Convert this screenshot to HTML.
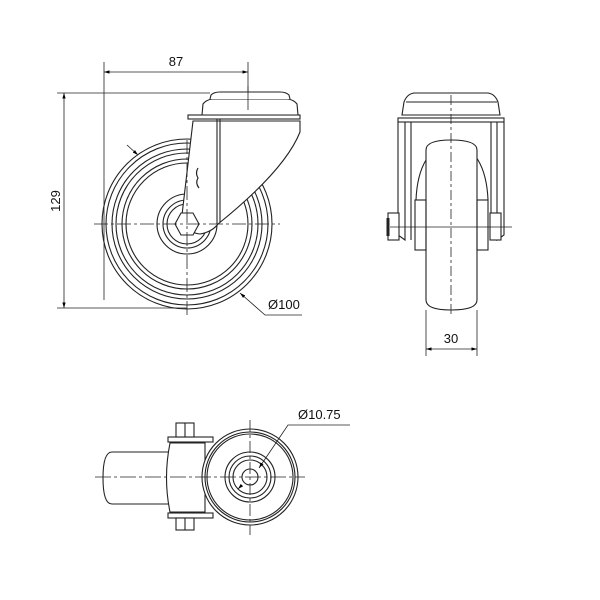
<!DOCTYPE html>
<html><head><style>html,body{margin:0;padding:0;background:#fff}svg{display:block}</style></head>
<body>
<svg width="600" height="600" viewBox="0 0 600 600" xmlns="http://www.w3.org/2000/svg" font-family="'Liberation Sans', sans-serif">
<defs>
<marker id="a" viewBox="0 0 10 10" refX="10" refY="5" markerWidth="7" markerHeight="7" orient="auto-start-reverse"><path d="M0,2 L10,5 L0,8 z" fill="#000"/></marker>
</defs>
<g fill="none" stroke="#222" stroke-width="1.1">
<!-- SIDE VIEW -->
<g stroke-width="0.8">
<line x1="104" y1="62" x2="104" y2="300"/>
<line x1="248" y1="62" x2="248" y2="110"/>
<line x1="104" y1="72" x2="248" y2="72" marker-start="url(#a)" marker-end="url(#a)"/>
<line x1="57" y1="93" x2="210" y2="93"/>
<line x1="57" y1="308" x2="187" y2="308"/>
<line x1="64" y1="93" x2="64" y2="308" marker-start="url(#a)" marker-end="url(#a)"/>
<polyline points="240,293 265,315 302,315" marker-start="url(#a)"/>
<line x1="127" y1="145" x2="138" y2="155" marker-end="url(#a)"/>
</g>
<circle cx="187" cy="224" r="85"/>
<circle cx="187" cy="224" r="81"/>
<circle cx="187" cy="224" r="75"/>
<circle cx="187" cy="224" r="71"/>
<circle cx="187" cy="224" r="65"/>
<circle cx="187" cy="224" r="61"/>
<circle cx="187" cy="224" r="30"/>
<circle cx="187" cy="224" r="24"/>
<circle cx="187" cy="224" r="20"/>
<!-- fork -->
<path d="M193,121 L182,215 Q186,233 200,234 Q212,232 218,224 Q285,170 300,132 L300,121 Z" fill="#fff"/>
<line x1="217" y1="118" x2="217" y2="224"/>
<line x1="220" y1="118" x2="220" y2="222"/>
<polygon points="181,213 193,213 199,224 193,235 181,235 175,224" fill="#fff"/>
<rect x="188" y="115" width="112" height="4" fill="#fff"/>
<path d="M202,115 L203,104 Q206,100 212,99 L288,99 Q294,100 297,104 L298,115 Z" fill="#fff"/>
<path d="M210,99 L211,95 Q214,92 220,92 L280,92 Q286,92 289,95 L290,99" fill="#fff"/>
<g stroke-width="0.8">
<line x1="94" y1="224" x2="280" y2="224" stroke-dasharray="14,3,3,3"/>
<line x1="187" y1="140" x2="187" y2="315" stroke-dasharray="14,3,3,3"/>
<line x1="248" y1="86" x2="248" y2="110"/>
</g>
<path d="M198,168 q-3,5 0,10 q-3,5 1,10" stroke-width="1.2"/>
<!-- FRONT VIEW -->
<path d="M402,115 L404,102 Q407,94 414,93 L488,93 Q495,94 498,102 L500,115 Z" fill="#fff"/>
<line x1="406" y1="102" x2="497" y2="102"/>
<rect x="398" y="118" width="106" height="4"/>
<path d="M398,122 L398,235 L405,240 L405,122"/>
<path d="M504,122 L504,235 L497,240 L497,122"/>
<path d="M411,122 L411,240 M491,122 L491,240"/>
<path d="M416,200 Q418,150 452,140 Q486,150 488,200"/>
<path d="M426,150 Q426,140 451,140 Q477,140 477,150 L477,300 Q477,310 451,310 Q426,310 426,300 Z" fill="#fff"/>
<rect x="415" y="200" width="11" height="50"/>
<rect x="477" y="200" width="11" height="50"/>
<rect x="388" y="213" width="11" height="27" fill="#fff"/>
<line x1="388" y1="218" x2="388" y2="236" stroke-width="3"/>
<rect x="490" y="213" width="11" height="27" fill="#fff"/>
<line x1="390" y1="227" x2="512" y2="227" stroke-width="0.7"/>
<line x1="451" y1="95" x2="451" y2="315" stroke-width="0.8" stroke-dasharray="10,3,3,3"/>
<g stroke-width="0.8">
<line x1="426" y1="310" x2="426" y2="356"/>
<line x1="477" y1="310" x2="477" y2="356"/>
<line x1="426" y1="349" x2="477" y2="349" marker-start="url(#a)" marker-end="url(#a)"/>
</g>
<!-- BOTTOM VIEW -->
<path d="M190,452 L112,452 Q103,452 103,478 Q103,504 112,504 L190,504"/>
<path d="M170,443 L205,443 L205,512 L170,512 Q163,478 170,443 Z" fill="#fff"/>
<rect x="168" y="437" width="45" height="5"/>
<rect x="168" y="513" width="45" height="5"/>
<rect x="176" y="423" width="18" height="14" fill="#fff"/>
<rect x="176" y="518" width="18" height="12" fill="#fff"/>
<line x1="185" y1="423" x2="185" y2="437"/>
<line x1="185" y1="518" x2="185" y2="530"/>
<circle cx="250" cy="477" r="48" fill="#fff"/>
<circle cx="250" cy="477" r="45"/>
<circle cx="250" cy="477" r="43"/>
<circle cx="250" cy="477" r="25"/>
<circle cx="250" cy="477" r="21"/>
<circle cx="250" cy="477" r="17"/>
<circle cx="250" cy="477" r="8"/>
<g stroke-width="0.8">
<line x1="95" y1="477" x2="305" y2="477" stroke-dasharray="16,3,3,3"/>
<line x1="250" y1="420" x2="250" y2="535" stroke-dasharray="12,3,3,3"/>
<line x1="238" y1="489" x2="242" y2="485" marker-start="url(#a)"/>
<polyline points="259,468 288,425 350,425" marker-start="url(#a)"/>
</g>
</g>
<g font-size="13" fill="#111">
<text x="176" y="66" text-anchor="middle">87</text>
<text x="0" y="0" text-anchor="middle" transform="translate(60,201) rotate(-90)">129</text>
<text x="268" y="309">Ø100</text>
<text x="451" y="343" text-anchor="middle">30</text>
<text x="298" y="419">Ø10.75</text>
</g>
</svg>
</body></html>
